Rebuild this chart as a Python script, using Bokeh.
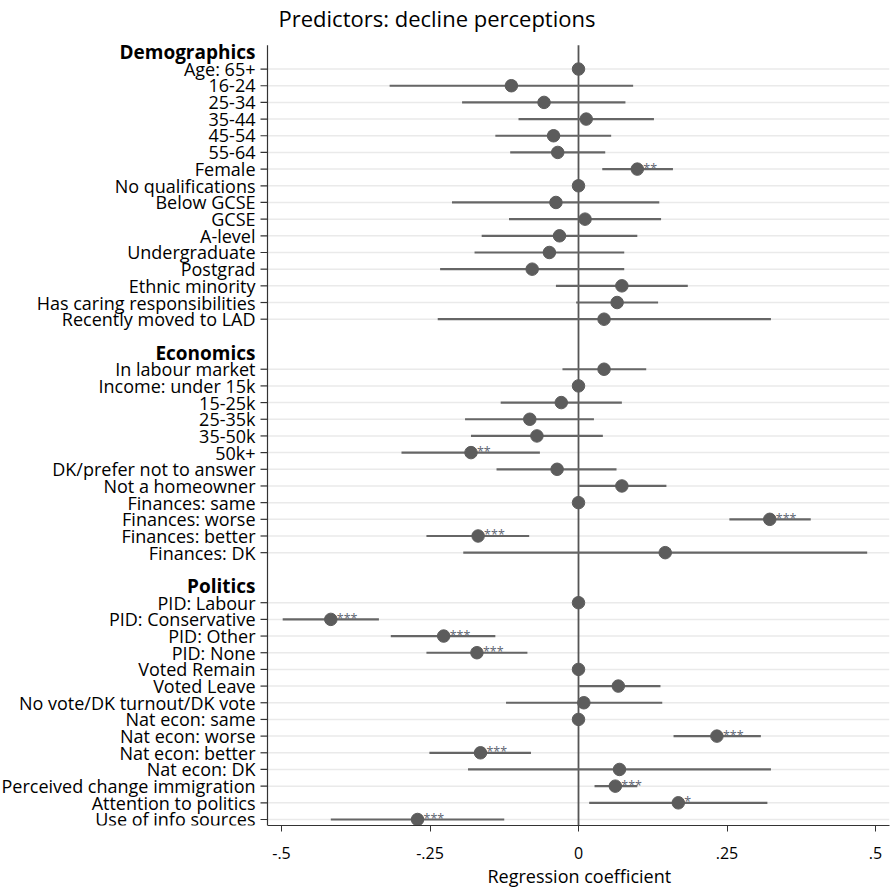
from bokeh.plotting import figure
from bokeh.models import Range1d, FixedTicker, ColumnDataSource, Title
from bokeh.embed import file_html
from bokeh.resources import INLINE
from bokeh.core.properties import value

FONT = "Open Sans"

# ---------------- data ----------------
demo_labels = ["Age: 65+", "16-24", "25-34", "35-44", "45-54", "55-64", "Female",
               "No qualifications", "Below GCSE", "GCSE", "A-level", "Undergraduate",
               "Postgrad", "Ethnic minority", "Has caring responsibilities",
               "Recently moved to LAD"]
demo_coef = [0, -0.113, -0.058, 0.013, -0.042, -0.035, 0.099,
             0, -0.038, 0.011, -0.032, -0.049, -0.078, 0.073, 0.065, 0.043]
demo_lo = [None, -0.318, -0.196, -0.101, -0.140, -0.115, 0.040,
           None, -0.213, -0.117, -0.163, -0.175, -0.233, -0.038, -0.004, -0.237]
demo_hi = [None, 0.092, 0.079, 0.127, 0.055, 0.045, 0.159,
           None, 0.136, 0.139, 0.099, 0.077, 0.077, 0.184, 0.134, 0.324]
demo_stars = ["", "", "", "", "", "", "**", "", "", "", "", "", "", "", "", ""]

econ_labels = ["In labour market", "Income: under 15k", "15-25k", "25-35k", "35-50k",
               "50k+", "DK/prefer not to answer", "Not a homeowner", "Finances: same",
               "Finances: worse", "Finances: better", "Finances: DK"]
econ_coef = [0.043, 0, -0.029, -0.082, -0.070, -0.181, -0.036, 0.073, 0, 0.322, -0.169, 0.146]
econ_lo = [-0.027, None, -0.131, -0.191, -0.181, -0.298, -0.138, 0.001, None, 0.254, -0.256, -0.194]
econ_hi = [0.114, None, 0.073, 0.026, 0.041, -0.065, 0.064, 0.148, None, 0.391, -0.083, 0.486]
econ_stars = ["", "", "", "", "", "**", "", "", "", "***", "***", ""]

pol_labels = ["PID: Labour", "PID: Conservative", "PID: Other", "PID: None",
              "Voted Remain", "Voted Leave", "No vote/DK turnout/DK vote",
              "Nat econ: same", "Nat econ: worse", "Nat econ: better", "Nat econ: DK",
              "Perceived change immigration", "Attention to politics", "Use of info sources"]
pol_coef = [0, -0.417, -0.227, -0.171, 0, 0.067, 0.009, 0, 0.233, -0.165, 0.069, 0.062, 0.168, -0.271]
pol_lo = [None, -0.498, -0.316, -0.256, None, 0.001, -0.122, None, 0.160, -0.251, -0.186, 0.027, 0.018, -0.417]
pol_hi = [None, -0.336, -0.140, -0.086, None, 0.138, 0.141, None, 0.307, -0.080, 0.324, 0.099, 0.318, -0.125]
pol_stars = ["", "***", "***", "***", "", "", "", "", "***", "***", "", "***", "*", "***"]

section_names = ["Demographics", "Economics", "Politics"]

x_ticks = [-0.5, -0.25, 0, 0.25, 0.5]
x_tick_labels = ["-.5", "-.25", "0", ".25", ".5"]

chart_title = "Predictors: decline perceptions"
x_title = "Regression coefficient"

# ---------------- assemble rows ----------------
sections = [
    (section_names[0], demo_labels, demo_coef, demo_lo, demo_hi, demo_stars),
    (section_names[1], econ_labels, econ_coef, econ_lo, econ_hi, econ_stars),
    (section_names[2], pol_labels, pol_coef, pol_lo, pol_hi, pol_stars),
]

header_rows, header_names = [], []
item_rows, item_labels, item_coef, item_stars = [], [], [], []
ci_rows, ci_lo, ci_hi = [], [], []
row = 0
for si, (name, labs, coef, lo, hi, st) in enumerate(sections):
    header_rows.append(row)
    header_names.append(name)
    row += 1
    for l, c, a, b, s in zip(labs, coef, lo, hi, st):
        item_rows.append(row)
        item_labels.append(l)
        item_coef.append(c)
        item_stars.append(s)
        if a is not None:
            ci_rows.append(row)
            ci_lo.append(a)
            ci_hi.append(b)
        row += 1
    if si < len(sections) - 1:
        row += 1
last_row = row - 1

# ---------------- scales / layout ----------------
px_per_unit = 594.0                 # pixels per coefficient unit
axis_x = -311.0 / px_per_unit       # where the category axis sits
x_start = -578.0 / px_per_unit      # frame reaches the canvas' left edge (room for labels)
x_end = 311.0 / px_per_unit
tick_len = 7.0 / px_per_unit

px_per_row = 16.717
y_frame_top = -52.0 / px_per_row    # frame reaches the canvas top (room for the title)
y_axis_top = -0.42                  # where the axis lines begin
y_bottom = last_row + 0.36
title_row = -2.05
title_x = -300.0 / px_per_unit

pts = ColumnDataSource(dict(y=item_rows, x=item_coef, stars=item_stars))
cis = ColumnDataSource(dict(y=ci_rows, x0=ci_lo, x1=ci_hi))
rows_src = ColumnDataSource(dict(y=item_rows, label=item_labels,
                                 ax=[axis_x] * len(item_rows),
                                 tk=[axis_x - tick_len] * len(item_rows),
                                 xe=[x_end] * len(item_rows)))
hdr_src = ColumnDataSource(dict(y=header_rows, label=header_names,
                                ax=[axis_x] * len(header_rows)))

p = figure(width=890, height=891, output_backend="svg", toolbar_location=None,
           x_range=Range1d(x_start, x_end),
           y_range=Range1d(y_bottom, y_frame_top),
           min_border_left=0, min_border_right=1, min_border_top=0,
           min_border_bottom=64)
p.outline_line_color = None
p.background_fill_color = "white"
p.border_fill_color = "white"
p.xgrid.visible = False
p.ygrid.visible = False
p.yaxis.visible = False

# x axis (bounded so it starts at the category axis)
p.xaxis.bounds = (axis_x, x_end)
p.xaxis.ticker = FixedTicker(ticks=x_ticks)
p.xaxis.major_label_overrides = {t: l for t, l in zip(x_ticks, x_tick_labels)}
p.xaxis.major_label_text_font = FONT
p.xaxis.major_label_text_font_size = "16px"
p.xaxis.major_label_text_color = "black"
p.xaxis.major_tick_out = 6
p.xaxis.major_tick_in = 0
p.xaxis.minor_tick_line_color = None
p.xaxis.axis_line_color = "#333333"
p.xaxis.major_tick_line_color = "#333333"
p.xaxis.major_label_standoff = 15

# axis title, centred under the plotting region
p.add_layout(Title(text=x_title, align="left", offset=487, vertical_align="top",
                   standoff=4, text_font=FONT, text_font_size="18px",
                   text_font_style="normal", text_color="black"), "below")

# chart title
p.text(x=[title_x], y=[title_row], text=[chart_title],
       text_font=value(FONT), text_font_size="22px", text_color="black",
       text_align="left", text_baseline="middle")

# row grid lines (from the category axis to the right edge)
p.segment(x0="ax", x1="xe", y0="y", y1="y", source=rows_src,
          line_color="#eaeaea", line_width=1.5)
# zero reference line and category axis line
p.segment(x0=[0, axis_x], x1=[0, axis_x], y0=[y_axis_top, y_axis_top],
          y1=[y_bottom, y_bottom],
          line_color=["#555555", "#333333"], line_width=[1.8, 1.2])
# category ticks
p.segment(x0="tk", x1="ax", y0="y", y1="y", source=rows_src,
          line_color="#333333", line_width=1.2)
# category labels
p.text(x="ax", y="y", text="label", source=rows_src, x_offset=-12,
       text_font=value(FONT), text_font_size="18px", text_color="black",
       text_align="right", text_baseline="middle")
# section headers
p.text(x="ax", y="y", text="label", source=hdr_src, x_offset=-12,
       text_font=value(FONT), text_font_size="19px", text_font_style="bold",
       text_color="black", text_align="right", text_baseline="middle")

# CIs and points
p.segment(x0="x0", x1="x1", y0="y", y1="y", source=cis, line_color="#666666", line_width=2.2)
p.scatter(x="x", y="y", source=pts, size=12.5, fill_color="#5c5c5c", line_color="#5c5c5c")
p.text(x="x", y="y", text="stars", source=pts, x_offset=6, y_offset=-1,
       text_font=value(FONT), text_font_size="12.5px", text_color="#5f6673",
       text_align="left", text_baseline="middle")

open("out.html", "w").write(file_html(p, INLINE))
